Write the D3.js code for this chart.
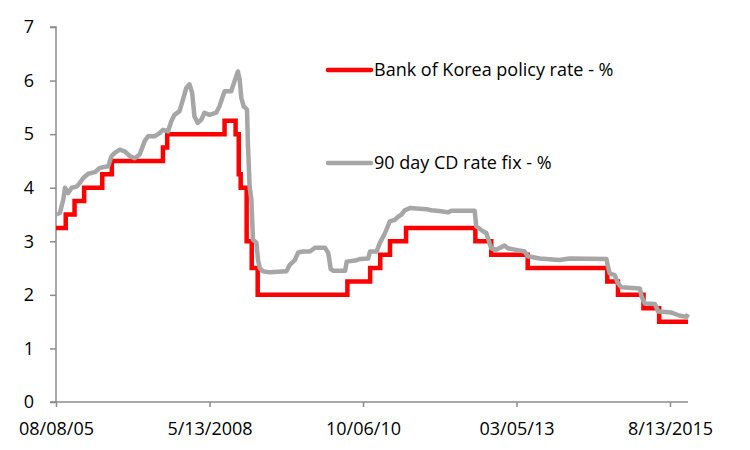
<!DOCTYPE html>
<html>
<head>
<meta charset="utf-8">
<script src="https://cdn.jsdelivr.net/npm/d3@7"></script>
<style>
  body { margin: 0; background: #fff; }
  text { font-family: "Open Sans", "Noto Sans", sans-serif; fill: #000; }
</style>
</head>
<body>
<svg id="chart" width="750" height="450"></svg>
<script>
// Category ticks shown on the x axis (evenly spaced in the original)
var tickDates = ["2005-08-08", "2008-05-13", "2010-10-06", "2013-03-05", "2015-08-13"];
var tickLabels = ["08/08/05", "5/13/2008", "10/06/10", "03/05/13", "8/13/2015"];
var endDate = "2015-11-27";

// Bank of Korea policy rate - % (date of change, new rate)
var policyDates = ["2005-08-08", "2005-10-11", "2005-12-08", "2006-02-09", "2006-06-08", "2006-08-10",
  "2007-07-12", "2007-08-09", "2008-08-07", "2008-10-09", "2008-10-27", "2008-11-07", "2008-12-11",
  "2009-01-09", "2009-02-12", "2010-07-09", "2010-11-16", "2011-01-13", "2011-03-10", "2011-06-10",
  "2012-07-12", "2012-10-11", "2013-05-09", "2014-08-14", "2014-10-15", "2015-03-12", "2015-06-11",
  "2015-11-27"];
var policyRates = [3.25, 3.5, 3.75, 4.0, 4.25, 4.5,
  4.75, 5.0, 5.25, 5.0, 4.25, 4.0, 3.0,
  2.5, 2.0, 2.25, 2.5, 2.75, 3.0, 3.25,
  3.0, 2.75, 2.5, 2.25, 2.0, 1.75, 1.5,
  1.5];

// 90 day CD rate fix - %
var cdDates = ["2005-08-08", "2005-09-03", "2005-09-25", "2005-10-06", "2005-10-27", "2005-11-19",
  "2005-12-22", "2006-01-12", "2006-02-03", "2006-03-08", "2006-04-20", "2006-05-23", "2006-07-17",
  "2006-08-08", "2006-08-29", "2006-10-01", "2006-11-03", "2006-12-06", "2007-01-07", "2007-02-09",
  "2007-03-14", "2007-04-05", "2007-05-18", "2007-06-20", "2007-07-12", "2007-08-14", "2007-09-05",
  "2007-09-26", "2007-10-29", "2007-11-20", "2007-12-12", "2008-01-03", "2008-01-20", "2008-02-04",
  "2008-02-26", "2008-03-20", "2008-04-10", "2008-05-13", "2008-06-20", "2008-07-09", "2008-08-07",
  "2008-09-14", "2008-10-03", "2008-10-22", "2008-11-01", "2008-11-11", "2008-11-24", "2008-12-13",
  "2008-12-18", "2008-12-28", "2009-01-07", "2009-01-16", "2009-02-05", "2009-02-14", "2009-02-24",
  "2009-03-14", "2009-04-22", "2009-07-26", "2009-08-14", "2009-09-12", "2009-10-01", "2009-10-30",
  "2009-12-07", "2010-01-05", "2010-03-03", "2010-03-22", "2010-04-05", "2010-04-20", "2010-06-26",
  "2010-07-05", "2010-08-22", "2010-09-20", "2010-11-05", "2010-11-15", "2010-12-23", "2011-01-11",
  "2011-02-09", "2011-03-09", "2011-04-07", "2011-04-26", "2011-05-15", "2011-06-03", "2011-07-02",
  "2011-10-05", "2011-11-03", "2011-12-30", "2012-02-06", "2012-02-25", "2012-07-08", "2012-07-17",
  "2012-08-15", "2012-09-13", "2012-10-01", "2012-10-11", "2012-11-09", "2012-12-26", "2013-01-14",
  "2013-03-03", "2013-04-21", "2013-05-10", "2013-07-17", "2013-11-10", "2014-01-07", "2014-08-09",
  "2014-08-18", "2014-08-28", "2014-09-26", "2014-10-15", "2014-11-04", "2015-02-19", "2015-03-01",
  "2015-03-20", "2015-05-17", "2015-06-06", "2015-08-22", "2015-10-10", "2015-11-18", "2015-11-27"];
var cdRates = [3.50, 3.53, 3.78, 4.00, 3.90, 4.00,
  4.02, 4.09, 4.18, 4.26, 4.29, 4.37, 4.40,
  4.59, 4.65, 4.71, 4.68, 4.59, 4.55, 4.62,
  4.87, 4.96, 4.96, 5.02, 5.08, 5.05, 5.24,
  5.36, 5.43, 5.64, 5.86, 5.93, 5.77, 5.33,
  5.21, 5.27, 5.40, 5.36, 5.40, 5.52, 5.80,
  5.80, 5.99, 6.17, 6.02, 5.67, 5.52, 5.46,
  4.84, 4.02, 3.78, 3.03, 2.97, 2.65, 2.50,
  2.44, 2.42, 2.44, 2.56, 2.65, 2.79, 2.81,
  2.81, 2.88, 2.88, 2.78, 2.48, 2.45, 2.45,
  2.62, 2.64, 2.67, 2.68, 2.81, 2.81, 2.97,
  3.15, 3.37, 3.40, 3.46, 3.50, 3.58, 3.62,
  3.60, 3.58, 3.56, 3.54, 3.57, 3.57, 3.28,
  3.21, 3.15, 2.97, 2.87, 2.84, 2.92, 2.87,
  2.84, 2.81, 2.72, 2.68, 2.65, 2.68, 2.67,
  2.53, 2.40, 2.37, 2.22, 2.14, 2.12, 1.97,
  1.84, 1.83, 1.69, 1.67, 1.61, 1.59, 1.64];

var yTicks = [0, 1, 2, 3, 4, 5, 6, 7];

var parse = d3.timeParse("%Y-%m-%d");

var margin = { left: 56, right: 62, top: 27, bottom: 48 },
    width = 750,
    height = 450;

// The original axis is a category axis: its labelled dates sit at equal spacing,
// so map time piecewise between them
var xDomain = tickDates.concat([endDate]).map(parse);
var step = 153.5;
var xRange = tickDates.map(function(d, i) { return margin.left + i * step; });
xRange.push(688);

var x = d3.scaleTime()
  .domain(xDomain)
  .range(xRange);

var y = d3.scaleLinear()
  .domain([0, 7])
  .range([height - margin.bottom, margin.top]);

var svg = d3.select("#chart");

var policy = policyDates.map(function(d, i) { return { date: parse(d), value: policyRates[i] }; });
var cd = cdDates.map(function(d, i) { return { date: parse(d), value: cdRates[i] }; });

// Y axis
var yAxis = svg.append("g")
  .attr("transform", "translate(" + margin.left + ",0)")
  .call(d3.axisLeft(y).tickValues(yTicks).tickSize(6).tickPadding(16).tickFormat(d3.format("d")));

// X axis
var xAxis = svg.append("g")
  .attr("transform", "translate(0," + y(0) + ")")
  .call(d3.axisBottom(x).tickValues(tickDates.map(parse)).tickSize(5).tickPadding(15)
    .tickFormat(function(d, i) { return tickLabels[i]; }));

xAxis.select(".domain").attr("d", "M" + margin.left + ",0H" + xRange[xRange.length - 1]);
yAxis.select(".domain").attr("d", "M-6," + y(7) + "H0V" + y(0) + "H-6");

svg.selectAll(".domain, .tick line")
  .attr("stroke", "#8c8c8c")
  .attr("stroke-width", 1.5);

svg.selectAll(".tick text")
  .attr("font-size", "18px")
  .attr("font-family", "Open Sans, Noto Sans, sans-serif")
  .attr("fill", "#000");

// Lines
var cdLine = d3.line()
  .x(function(d) { return x(d.date); })
  .y(function(d) { return y(d.value); });

var policyLine = d3.line()
  .curve(d3.curveStepAfter)
  .x(function(d) { return x(d.date); })
  .y(function(d) { return y(d.value); });

svg.append("path")
  .datum(policy)
  .attr("fill", "none")
  .attr("stroke", "#ff0000")
  .attr("stroke-width", 4.5)
  .attr("d", policyLine);

svg.append("path")
  .datum(cd)
  .attr("fill", "none")
  .attr("stroke", "#a6a6a6")
  .attr("stroke-width", 4.5)
  .attr("stroke-linejoin", "round")
  .attr("d", cdLine);

// Legend
var legend = [
  { label: "Bank of Korea policy rate - %", color: "#ff0000", y: 70 },
  { label: "90 day CD rate fix - %", color: "#a6a6a6", y: 163 }
];

var lg = svg.selectAll(".legend")
  .data(legend)
  .enter().append("g")
  .attr("class", "legend")
  .attr("transform", function(d) { return "translate(328," + d.y + ")"; });

lg.append("line")
  .attr("x1", 0)
  .attr("x2", 43)
  .attr("stroke", function(d) { return d.color; })
  .attr("stroke-width", 4.5)
  .attr("stroke-linecap", "round");

lg.append("text")
  .attr("x", 46)
  .attr("dy", "0.35em")
  .attr("font-size", "18px")
  .text(function(d) { return d.label; });
</script>
</body>
</html>
